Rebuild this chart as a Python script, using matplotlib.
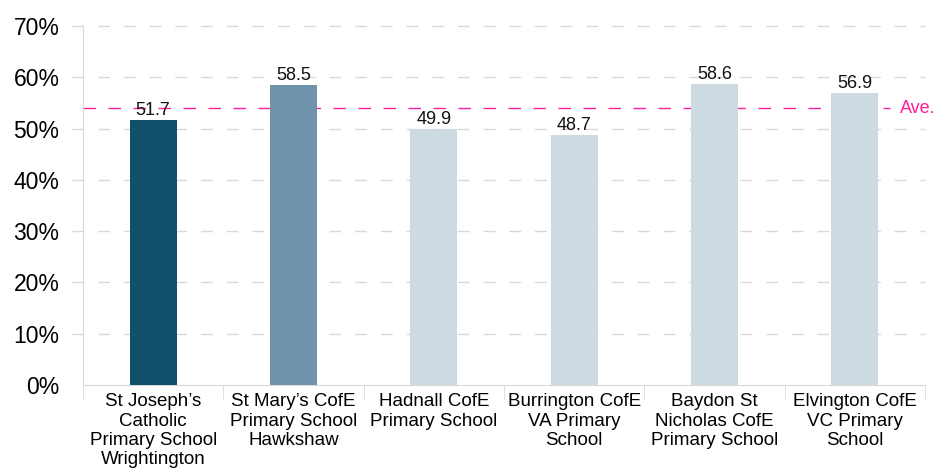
import numpy as np
import matplotlib
matplotlib.use("Agg")
from matplotlib import pyplot as plt

plt.rcParams['font.family'] = ['Liberation Sans', 'DejaVu Sans']

schools = ["St Joseph\u2019s\nCatholic\nPrimary School\nWrightington",
           "St Mary\u2019s CofE\nPrimary School\nHawkshaw",
           "Hadnall CofE\nPrimary School",
           "Burrington CofE\nVA Primary\nSchool",
           "Baydon St\nNicholas CofE\nPrimary School",
           "Elvington CofE\nVC Primary\nSchool"]
values = [51.7, 58.5, 49.9, 48.7, 58.6, 56.9]
colors = ['#124f6b', '#6f93ab', '#cddae2', '#cddae2', '#cddae2', '#cddae2']
average = 54.0

fig = plt.figure(figsize=(9.35, 4.68), dpi=100)
ax = fig.add_axes([83/935, 83/468, 842/935, 359/468])

x = np.arange(len(values))
ax.bar(x, values, width=0.335, color=colors, zorder=3)
for xi, v in zip(x, values):
    ax.text(xi, v + 0.2, f"{v}", ha='center', va='bottom', fontsize=13, color='#111111', zorder=4)

# average line
ax.plot([-0.5, 5.25], [average, average], color='#ff1f9b', linestyle=(0, (9, 9)), linewidth=1, zorder=2)
ax.text(5.32, average, "Ave.", color='#ff1f9b', fontsize=13, va='center', ha='left')

ax.set_xlim(-0.5, 5.5)
ax.set_ylim(0, 70)
ax.set_yticks(np.arange(0, 71, 10))
ax.set_yticklabels([f"{t}%" for t in range(0, 71, 10)], fontsize=16.5)

# gridlines extending to the left of the axis
for t in range(10, 71, 10):
    ax.plot([-0.58, 5.5], [t, t], color='#d9d9d9', linestyle=(0, (8.5, 10)), linewidth=1, zorder=1, clip_on=False)

ax.set_xticks(x)
ax.set_xticklabels(schools, fontsize=13.5, linespacing=1.18)
ax.tick_params(axis='x', length=0, pad=6)
ax.tick_params(axis='y', length=0, pad=17)
# category separators
ax.set_xticks(np.arange(-0.5, 6, 1), minor=True)
ax.tick_params(axis='x', which='minor', length=10, color='#d9d9d9')

for s in ['top', 'right']:
    ax.spines[s].set_visible(False)
ax.spines['left'].set_color('#d9d9d9')
ax.spines['bottom'].set_color('#d9d9d9')

fig.savefig("out.png", dpi=100)
